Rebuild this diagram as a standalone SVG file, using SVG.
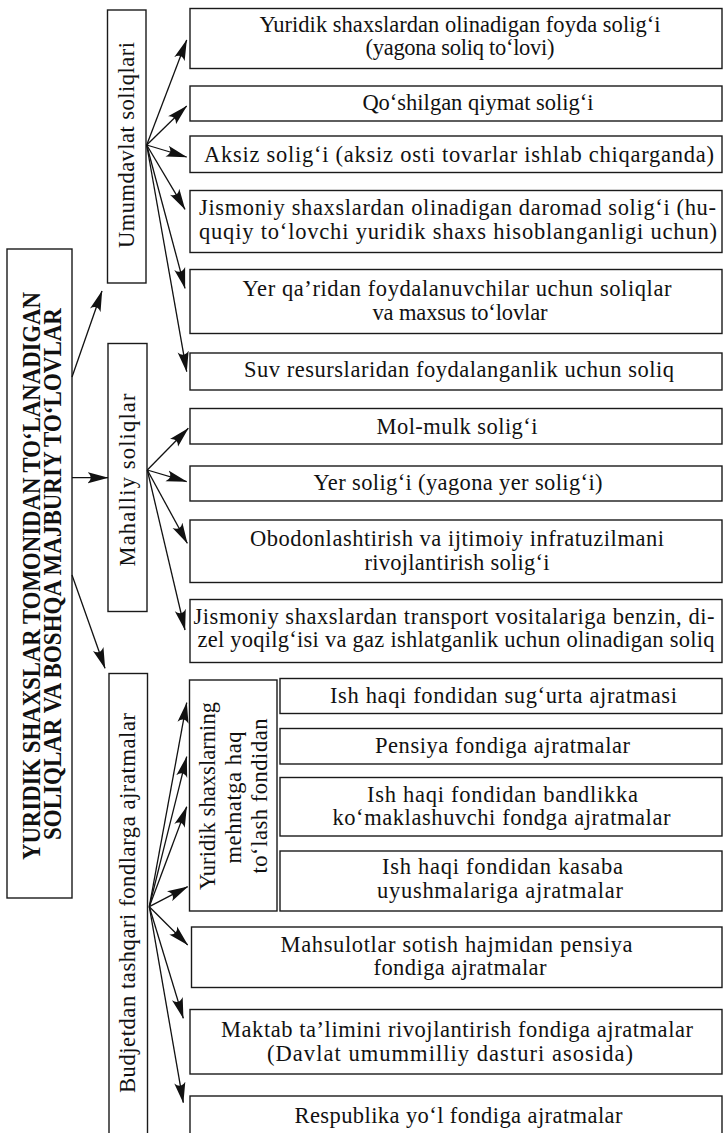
<svg xmlns="http://www.w3.org/2000/svg" width="724" height="1133" viewBox="0 0 724 1133">
<style>
.box{fill:#fff;stroke:#1a1a1a;stroke-width:1.4}
.t{font-family:"Liberation Serif","Times New Roman",serif;font-size:22.5px;fill:#111;text-anchor:middle}
.title{font-family:"Liberation Serif","Times New Roman",serif;font-size:26px;font-weight:bold;fill:#111;text-anchor:middle}
.c{stroke:#111;stroke-width:1.3;fill:none;marker-end:url(#ah)}
</style>
<defs>
<marker id="ah" markerUnits="userSpaceOnUse" viewBox="0 0 21 12" refX="20.5" refY="6" markerWidth="21" markerHeight="12" orient="auto">
<path d="M0,0.4 L21,6 L0,11.6 Q6.5,6 0,0.4 Z" fill="#111"/>
</marker>
</defs>
<rect width="724" height="1133" fill="#fff"/>

<g id="main">
<rect class="box" x="7" y="249" width="65" height="649"/>
<text class="title" transform="translate(39.5,576) rotate(-90)" textLength="568" lengthAdjust="spacingAndGlyphs">YURIDIK SHAXSLAR TOMONIDAN TO‘LANADIGAN</text>
<text class="title" transform="translate(61,574) rotate(-90)" textLength="532" lengthAdjust="spacingAndGlyphs">SOLIQLAR VA BOSHQA MAJBURIY TO‘LOVLAR</text>
</g>

<g id="umumdavlat">
<rect class="box" x="107.5" y="10" width="38.5" height="273"/>
<text class="t" transform="translate(134,145) rotate(-90)" textLength="206" lengthAdjust="spacing">Umumdavlat soliqlari</text>
</g>
<g id="mahalliy">
<rect class="box" x="108" y="343.5" width="39" height="268"/>
<text class="t" transform="translate(134.5,480) rotate(-90)" textLength="173" lengthAdjust="spacing">Mahalliy soliqlar</text>
</g>
<g id="budjet">
<rect class="box" x="109" y="673.5" width="38.5" height="470"/>
<text class="t" transform="translate(134.5,903) rotate(-90)" textLength="380" lengthAdjust="spacing">Budjetdan tashqari fondlarga ajratmalar</text>
</g>
<g id="mehnat">
<rect class="box" x="189.5" y="680" width="87.5" height="231"/>
<text class="t" transform="translate(215,796) rotate(-90)" textLength="188" lengthAdjust="spacing">Yuridik shaxslarning</text>
<text class="t" transform="translate(241,797.5) rotate(-90)" textLength="132" lengthAdjust="spacing">mehnatga haq</text>
<text class="t" transform="translate(266.5,796) rotate(-90)" textLength="155" lengthAdjust="spacing">to‘lash fondidan</text>
</g>

<g id="n-foyda">
<rect class="box" x="190" y="8.5" width="532" height="60"/>
<text class="t" x="460" y="32" textLength="401" lengthAdjust="spacing">Yuridik shaxslardan olinadigan foyda solig‘i</text>
<text class="t" x="460" y="55" textLength="189" lengthAdjust="spacing">(yagona soliq to‘lovi)</text>
</g>
<g id="n-qqs">
<rect class="box" x="190" y="86" width="532" height="35"/>
<text class="t" x="478" y="109.5">Qo‘shilgan qiymat solig‘i</text>
</g>
<g id="n-aksiz">
<rect class="box" x="190" y="136" width="532" height="36.5"/>
<text class="t" x="459" y="162" textLength="510" lengthAdjust="spacing">Aksiz solig‘i (aksiz osti tovarlar ishlab chiqarganda)</text>
</g>
<g id="n-jismoniy">
<rect class="box" x="190" y="190.5" width="532" height="62"/>
<text class="t" x="457.5" y="215" textLength="517" lengthAdjust="spacing">Jismoniy shaxslardan olinadigan daromad solig‘i (hu-</text>
<text class="t" x="458" y="238.5" textLength="518" lengthAdjust="spacing">quqiy to‘lovchi yuridik shaxs hisoblanganligi uchun)</text>
</g>
<g id="n-yerqa">
<rect class="box" x="190" y="269.5" width="532" height="64"/>
<text class="t" x="457" y="296" textLength="429" lengthAdjust="spacing">Yer qa’ridan foydalanuvchilar uchun soliqlar</text>
<text class="t" x="460" y="320" textLength="175" lengthAdjust="spacing">va maxsus to‘lovlar</text>
</g>
<g id="n-suv">
<rect class="box" x="190" y="353" width="532" height="37"/>
<text class="t" x="459" y="377" textLength="430" lengthAdjust="spacing">Suv resurslaridan foydalanganlik uchun soliq</text>
</g>
<g id="n-molmulk">
<rect class="box" x="190" y="408.5" width="532" height="35.5"/>
<text class="t" x="457" y="434" textLength="161" lengthAdjust="spacing">Mol-mulk solig‘i</text>
</g>
<g id="n-yer">
<rect class="box" x="190" y="466" width="532" height="35"/>
<text class="t" x="458" y="490" textLength="289" lengthAdjust="spacing">Yer solig‘i (yagona yer solig‘i)</text>
</g>
<g id="n-obod">
<rect class="box" x="190" y="520" width="532" height="62.5"/>
<text class="t" x="457" y="546" textLength="414" lengthAdjust="spacing">Obodonlashtirish va ijtimoiy infratuzilmani</text>
<text class="t" x="457" y="570" textLength="185" lengthAdjust="spacing">rivojlantirish solig‘i</text>
</g>
<g id="n-transport">
<rect class="box" x="190" y="599.5" width="532" height="63"/>
<text class="t" x="454" y="623.5" textLength="521" lengthAdjust="spacing">Jismoniy shaxslardan transport vositalariga benzin, di-</text>
<text class="t" x="456" y="647" textLength="517" lengthAdjust="spacing">zel yoqilg‘isi va gaz ishlatganlik uchun olinadigan soliq</text>
</g>
<g id="n-sugurta">
<rect class="box" x="280" y="678.5" width="442" height="35"/>
<text class="t" x="503.5" y="702.5" textLength="347" lengthAdjust="spacing">Ish haqi fondidan sug‘urta ajratmasi</text>
</g>
<g id="n-pensiya">
<rect class="box" x="280" y="728.5" width="442" height="35.5"/>
<text class="t" x="502.5" y="753" textLength="255" lengthAdjust="spacing">Pensiya fondiga ajratmalar</text>
</g>
<g id="n-bandlik">
<rect class="box" x="280" y="777.5" width="442" height="58.5"/>
<text class="t" x="502.5" y="801.5" textLength="271" lengthAdjust="spacing">Ish haqi fondidan bandlikka</text>
<text class="t" x="501.5" y="824.5" textLength="338" lengthAdjust="spacing">ko‘maklashuvchi fondga ajratmalar</text>
</g>
<g id="n-kasaba">
<rect class="box" x="280" y="851" width="442" height="60"/>
<text class="t" x="502.5" y="874" textLength="241" lengthAdjust="spacing">Ish haqi fondidan kasaba</text>
<text class="t" x="500" y="898" textLength="246" lengthAdjust="spacing">uyushmalariga ajratmalar</text>
</g>
<g id="n-mahsulot">
<rect class="box" x="191.5" y="927" width="530.5" height="60.5"/>
<text class="t" x="456.5" y="951.5" textLength="352" lengthAdjust="spacing">Mahsulotlar sotish hajmidan pensiya</text>
<text class="t" x="460" y="975" textLength="173" lengthAdjust="spacing">fondiga ajratmalar</text>
</g>
<g id="n-maktab">
<rect class="box" x="190" y="1009.5" width="532" height="64.5"/>
<text class="t" x="457" y="1036.5" textLength="472" lengthAdjust="spacing">Maktab ta’limini rivojlantirish fondiga ajratmalar</text>
<text class="t" x="450" y="1060.5" textLength="366" lengthAdjust="spacing">(Davlat umummilliy dasturi asosida)</text>
</g>
<g id="n-respublika">
<rect class="box" x="190" y="1096" width="532" height="45"/>
<text class="t" x="458.5" y="1123" textLength="328" lengthAdjust="spacing">Respublika yo‘l fondiga ajratmalar</text>
</g>

<g id="connectors">
<line class="c" x1="72" y1="377" x2="102" y2="291"/>
<line class="c" x1="72" y1="477.7" x2="108" y2="477.7"/>
<line class="c" x1="72" y1="575" x2="105" y2="668.3"/>

<line class="c" x1="146.7" y1="145" x2="186.7" y2="40"/>
<line class="c" x1="146.7" y1="145" x2="186.7" y2="106"/>
<line class="c" x1="146.7" y1="145" x2="186.7" y2="157"/>
<line class="c" x1="146.7" y1="145" x2="185" y2="209.3"/>
<line class="c" x1="146.7" y1="145" x2="185" y2="288.3"/>
<line class="c" x1="146.7" y1="145" x2="186.7" y2="371.7"/>

<line class="c" x1="147.3" y1="470" x2="188.3" y2="428.3"/>
<line class="c" x1="147.3" y1="470" x2="186.7" y2="481.7"/>
<line class="c" x1="147.3" y1="470" x2="187.3" y2="543.3"/>
<line class="c" x1="147.3" y1="470" x2="185" y2="630"/>

<line class="c" x1="149.3" y1="906.7" x2="186.7" y2="702.7"/>
<line class="c" x1="149.3" y1="906.7" x2="186.7" y2="756.7"/>
<line class="c" x1="149.3" y1="906.7" x2="186.7" y2="806.7"/>
<line class="c" x1="149.3" y1="906.7" x2="187.7" y2="886.7"/>
<line class="c" x1="149.3" y1="906.7" x2="187.7" y2="945"/>
<line class="c" x1="149.3" y1="906.7" x2="183.3" y2="1018.3"/>
<line class="c" x1="149.3" y1="906.7" x2="183.3" y2="1102.7"/>
</g>
</svg>
